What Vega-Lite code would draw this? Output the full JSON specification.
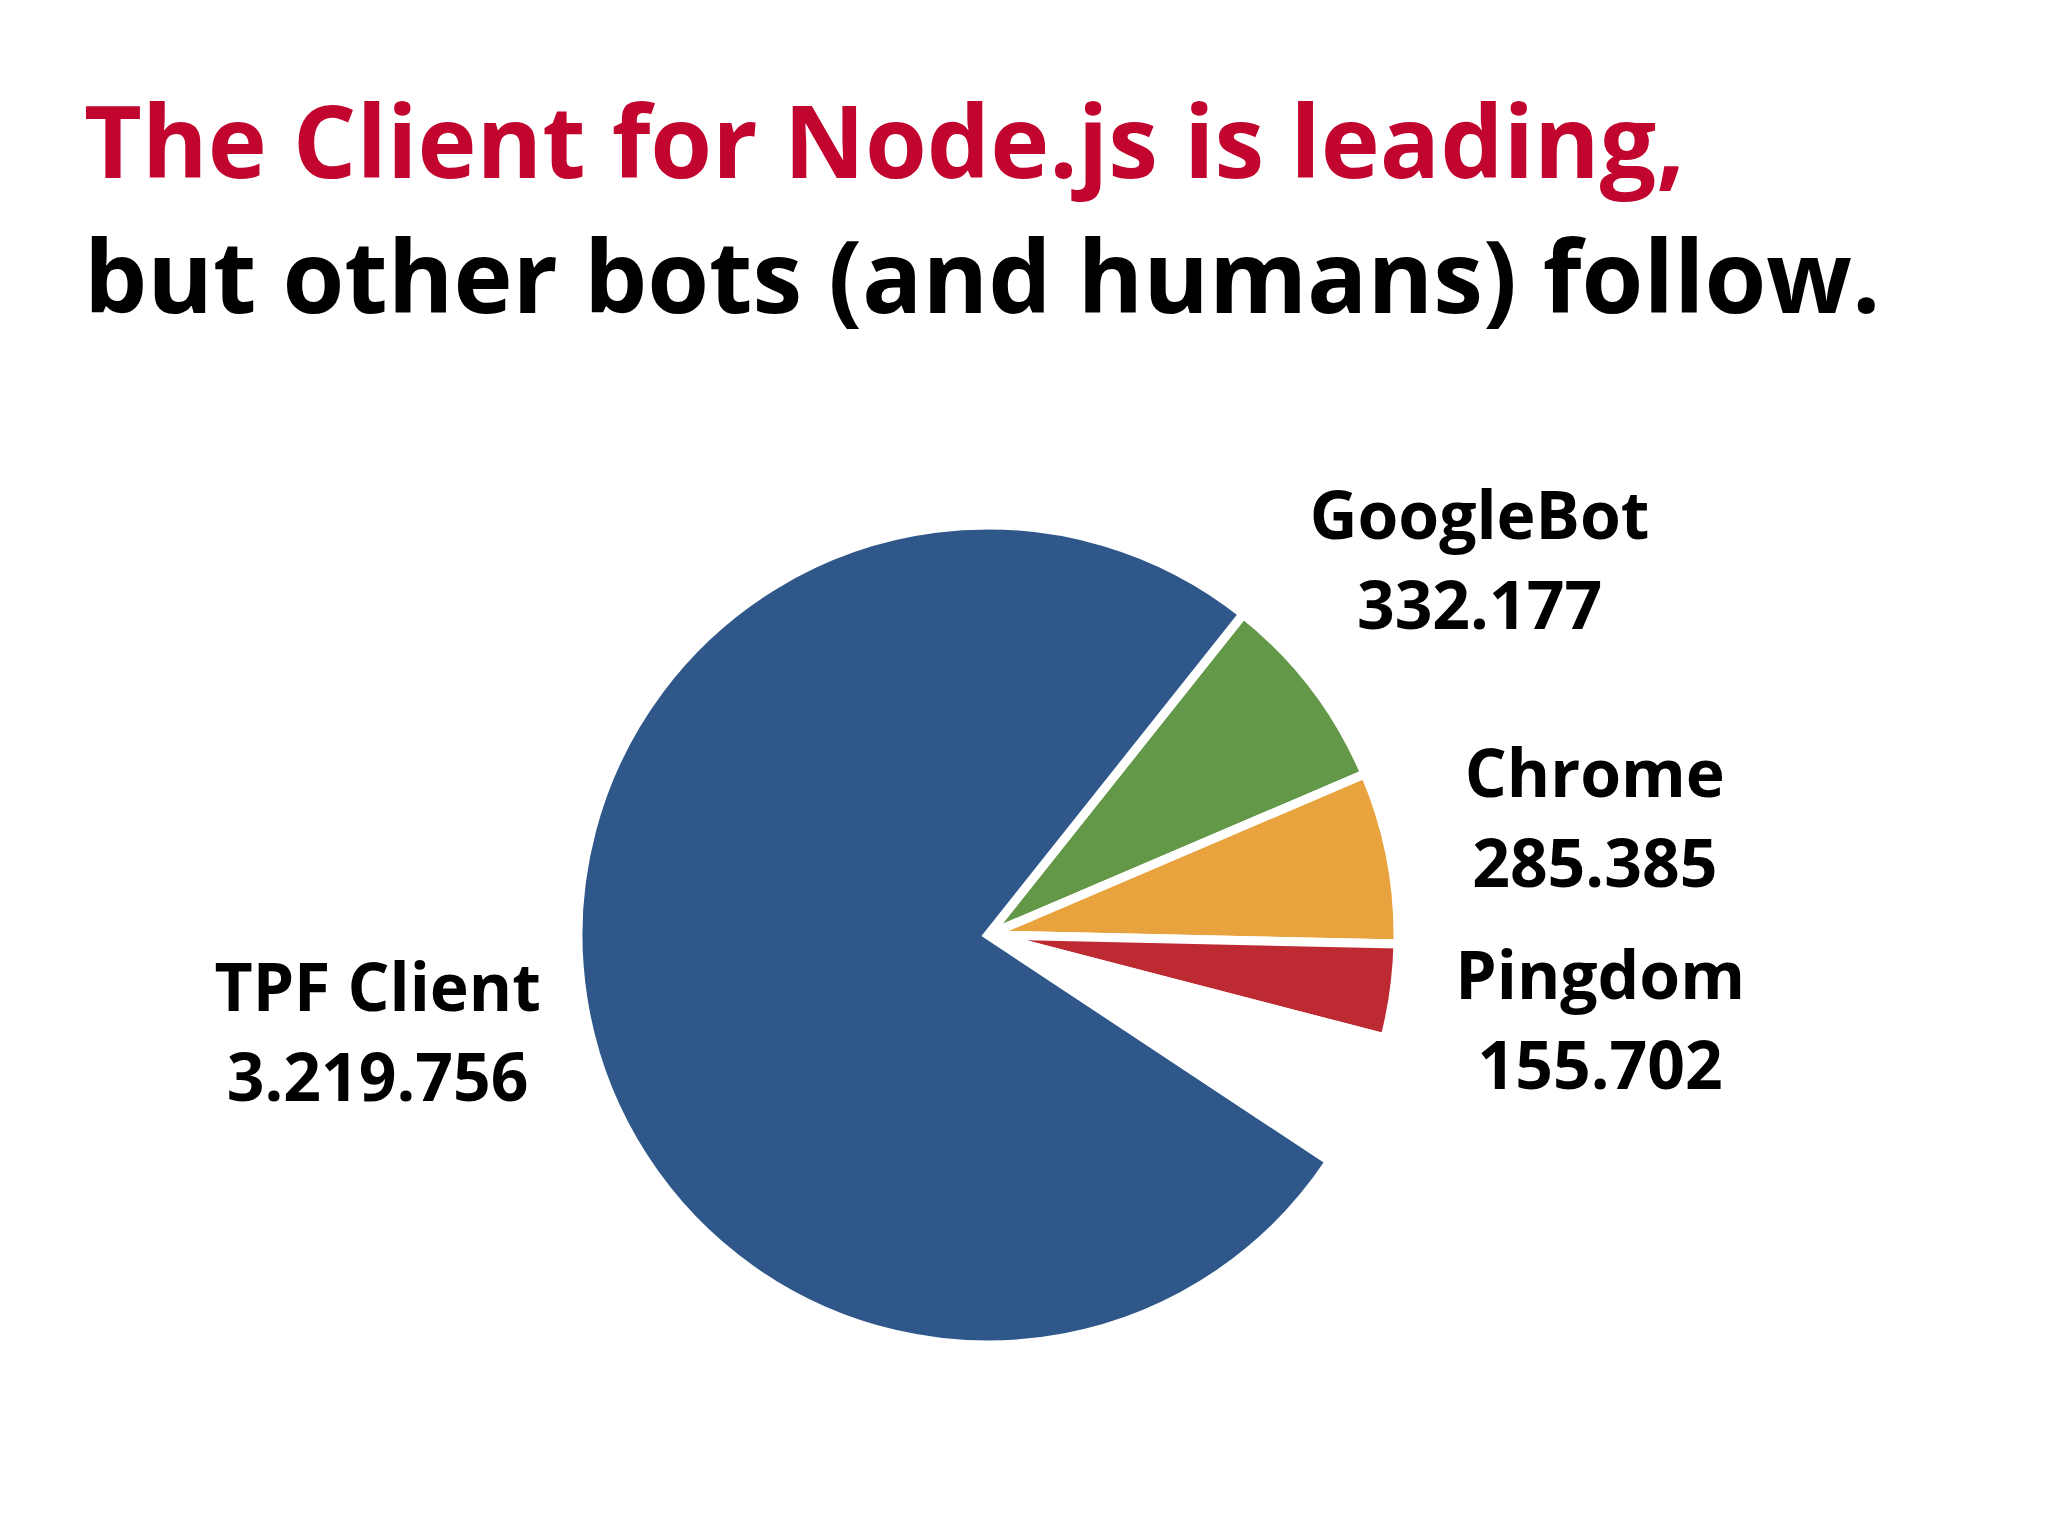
{
  "$schema": "https://vega.github.io/schema/vega-lite/v6.json",
  "width": 1808,
  "height": 1162,
  "padding": {"left": 84, "top": 98, "right": 0, "bottom": 0},
  "background": "white",
  "title": {
    "text": "The Client for Node.js is leading,",
    "subtitle": "but other bots (and humans) follow.",
    "anchor": "start",
    "font": "Open Sans",
    "fontSize": 100,
    "fontWeight": "bold",
    "color": "#C1052F",
    "subtitleFont": "Open Sans",
    "subtitleFontSize": 100,
    "subtitleFontWeight": "bold",
    "subtitleColor": "#000000",
    "subtitlePadding": 35,
    "offset": 20
  },
  "config": {
    "view": {"stroke": null},
    "locale": {
      "number": {"decimal": ",", "thousands": ".", "grouping": [3], "currency": ["", " €"]}
    }
  },
  "data": {
    "values": [
      {"rank": 1, "name": "GoogleBot", "value": 332177},
      {"rank": 2, "name": "Chrome", "value": 285385},
      {"rank": 3, "name": "Pingdom", "value": 155702},
      {"rank": 4, "name": "Other", "value": 222000},
      {"rank": 5, "name": "TPF Client", "value": 3219756}
    ]
  },
  "encoding": {
    "theta": {"field": "value", "type": "quantitative", "stack": true, "scale": {"range": [0.672, 6.955]}},
    "order": {"field": "rank", "type": "quantitative", "sort": "ascending"},
    "color": {
      "field": "name",
      "type": "nominal",
      "scale": {
        "domain": ["GoogleBot", "Chrome", "Pingdom", "Other", "TPF Client"],
        "range": ["#629848", "#E8A23E", "#BE2A31", "#FFFFFF", "#2F578A"]
      },
      "legend": null
    }
  },
  "layer": [
    {"mark": {"type": "arc", "radius": 410, "stroke": "white", "strokeWidth": 9}},
    {
      "mark": {"type": "text", "radius": 618, "font": "Open Sans", "fontSize": 66, "fontWeight": "bold", "dy": -21, "baseline": "alphabetic", "align": "center"},
      "encoding": {
        "text": {"field": "name", "type": "nominal"},
        "fill": {"value": "#000000"},
        "opacity": {"condition": {"test": "datum.name === 'Other'", "value": 0}, "value": 1}
      }
    },
    {
      "mark": {"type": "text", "radius": 618, "font": "Open Sans", "fontSize": 66, "fontWeight": "bold", "dy": 69, "baseline": "alphabetic", "align": "center"},
      "encoding": {
        "text": {"field": "value", "type": "quantitative", "format": ",d"},
        "fill": {"value": "#000000"},
        "opacity": {"condition": {"test": "datum.name === 'Other'", "value": 0}, "value": 1}
      }
    }
  ]
}
